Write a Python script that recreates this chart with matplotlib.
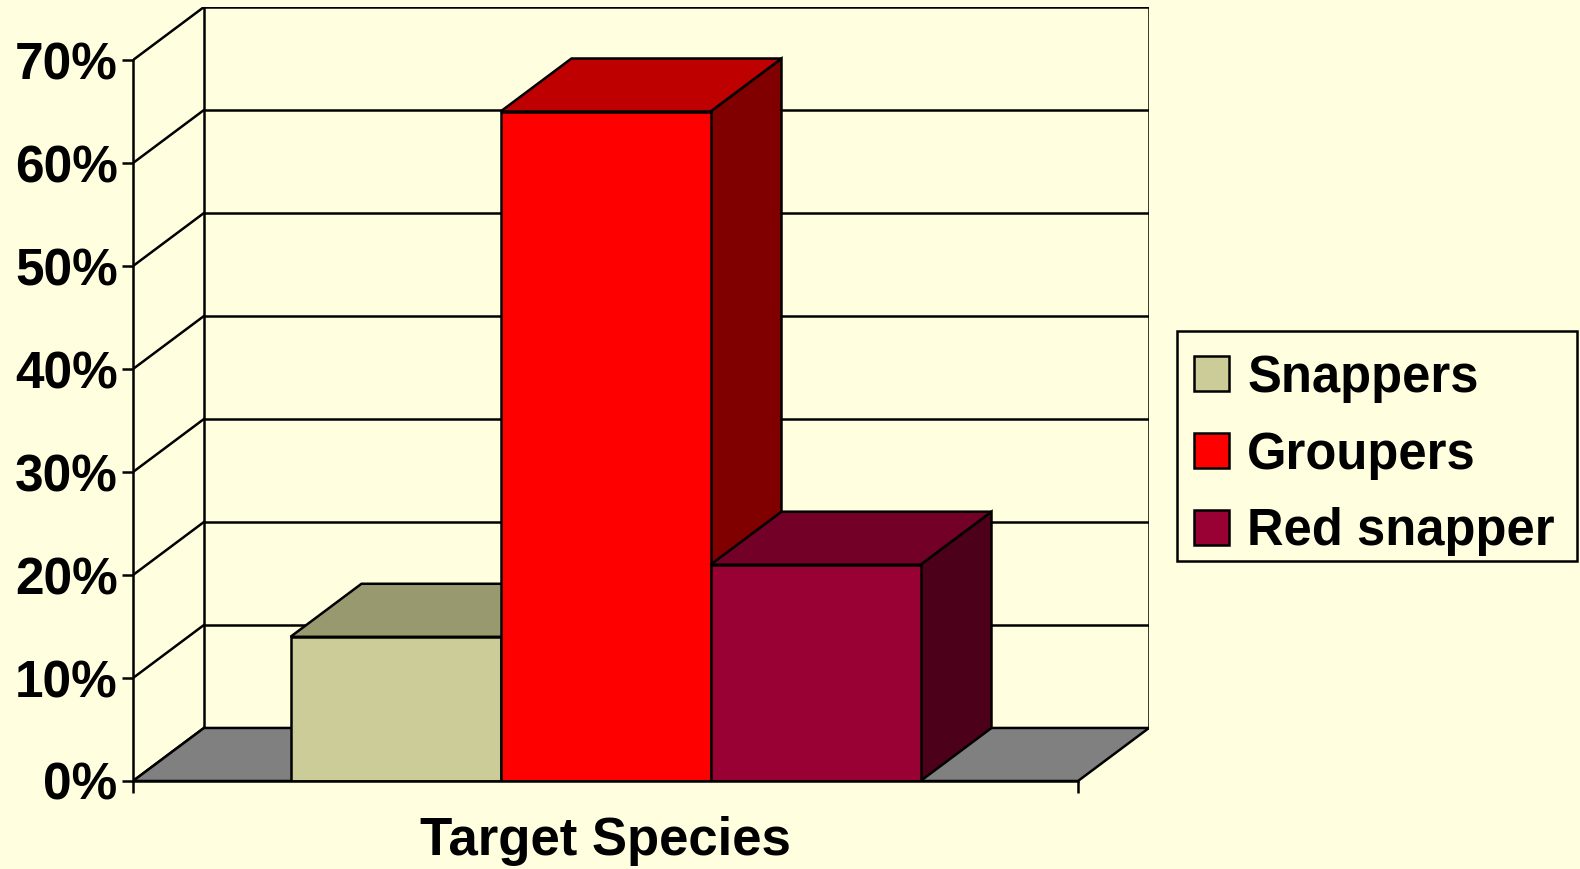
import matplotlib.pyplot as plt
from matplotlib.patches import Polygon, Patch, Rectangle
from matplotlib.transforms import blended_transform_factory

# share of trips by target species (%)
species = ['Snappers', 'Groupers', 'Red snapper']
shares = [14, 65, 21]
front_colors = ['#CCCC99', '#FF0000', '#990033']
top_colors = ['#999970', '#BF0000', '#730026']
side_colors = ['#66664D', '#800000', '#4C0019']
yticks = [0, 10, 20, 30, 40, 50, 60, 70]
ytick_labels = ['0%', '10%', '20%', '30%', '40%', '50%', '60%', '70%']

bg = '#FFFFE0'
floor_color = '#808080'
lw = 1.8

# depth of the 3d box in data units
dx = 0.338
dy = 5.15
floor_w = 4.5
margin = 0.75
ymax = 70

W, H = 1580, 869
fig = plt.figure(figsize=(W / 100, H / 100), dpi=100, facecolor=bg)
ax = fig.add_axes([133 / W, 88 / H, 1016 / W, 774 / H])
ax.patch.set_visible(False)
ax.set_xlim(0, floor_w + dx)
ax.set_ylim(0, ymax + dy)

# back wall and side wall gridlines
for v in yticks:
    ax.plot([dx, floor_w + dx], [v + dy, v + dy], color='black', lw=lw, zorder=1)
    ax.plot([0, dx], [v, v + dy], color='black', lw=lw, zorder=1)
ax.plot([dx, dx], [dy, ymax + dy], color='black', lw=lw, zorder=1)
ax.plot([floor_w + dx, floor_w + dx], [dy, ymax + dy], color='black', lw=lw, zorder=1)

# floor
ax.add_patch(Polygon([(0, 0), (floor_w, 0), (floor_w + dx, dy), (dx, dy)],
                     closed=True, facecolor=floor_color, edgecolor='black',
                     lw=lw, zorder=2))

# bars, left to right so each front face hides the previous side face
for i, h in enumerate(shares):
    x0 = margin + i
    x1 = x0 + 1
    side = [(x1, 0), (x1 + dx, dy), (x1 + dx, h + dy), (x1, h)]
    top = [(x0, h), (x1, h), (x1 + dx, h + dy), (x0 + dx, h + dy)]
    front = [(x0, 0), (x1, 0), (x1, h), (x0, h)]
    z = 3 + i
    ax.add_patch(Polygon(side, closed=True, facecolor=side_colors[i],
                         edgecolor='black', lw=lw, zorder=z))
    ax.add_patch(Polygon(top, closed=True, facecolor=top_colors[i],
                         edgecolor='black', lw=lw, zorder=z))
    ax.add_patch(Polygon(front, closed=True, facecolor=front_colors[i],
                         edgecolor='black', lw=lw, zorder=z))

# axes
for s in ['top', 'right']:
    ax.spines[s].set_visible(False)
ax.spines['left'].set_bounds(0, ymax)
ax.spines['bottom'].set_bounds(0, floor_w)
ax.spines['left'].set_linewidth(lw)
ax.spines['bottom'].set_linewidth(lw)
ax.spines['bottom'].set_zorder(10)
ax.set_yticks(yticks)
ax.set_yticklabels(ytick_labels)
ax.set_xticks([0, floor_w])
ax.set_xticklabels([])
ax.tick_params(axis='y', direction='out', length=8, width=lw, pad=3,
               labelsize=37)
ax.tick_params(axis='x', direction='out', length=8.5, width=lw)
for lab in ax.get_yticklabels():
    lab.set_fontfamily('Liberation Sans')
    lab.set_fontweight('bold')

trans = blended_transform_factory(ax.transData, fig.transFigure)
ax.text(floor_w / 2, 1 - 855 / H, 'Target Species', transform=trans,
        ha='center', va='baseline', fontsize=38, fontweight='bold',
        family='Liberation Sans')

# legend box drawn separately so the entries can sit freely inside it
fig.add_artist(Rectangle((1177 / W, 1 - 561 / H), 400 / W, 230 / H,
                         transform=fig.transFigure, facecolor=bg,
                         edgecolor='black', lw=lw, zorder=5))
handles = [Patch(facecolor=c, edgecolor='black', lw=lw) for c in front_colors]
leg = fig.legend(handles, species, loc='center left',
                 bbox_to_anchor=(1194 / W, 1 - 455 / H),
                 borderaxespad=0, frameon=False,
                 prop={'family': 'Liberation Sans', 'weight': 'bold', 'size': 36.5},
                 handlelength=0.69, handleheight=0.69, handletextpad=0.36,
                 labelspacing=0.55, borderpad=0)
leg.set_zorder(6)

fig.savefig('out.png', dpi=100, facecolor=bg)
